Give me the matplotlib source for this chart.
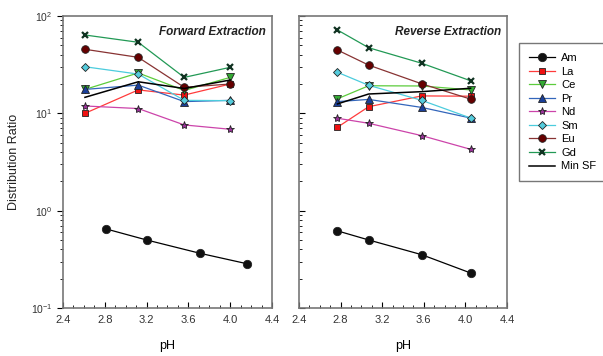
import matplotlib.pyplot as plt
from matplotlib.ticker import LogLocator, MultipleLocator, NullFormatter, FormatStrFormatter

plt.rcParams['font.family'] = ['Liberation Sans', 'DejaVu Sans']
plt.rcParams['mathtext.fontset'] = 'custom'
plt.rcParams['mathtext.rm'] = 'Liberation Sans'

# forward extraction
fwd_ph = [2.61, 3.12, 3.56, 4.00]
fwd_am_ph = [2.81, 3.20, 3.71, 4.16]
fwd_am = [0.65, 0.50, 0.365, 0.285]
fwd_la = [10.0, 17.4, 15.4, 20.0]
fwd_ce = [17.6, 26.0, 17.2, 23.4]
fwd_pr = [17.6, 19.5, 13.2, 13.6]
fwd_nd = [11.9, 11.2, 7.6, 6.86]
fwd_sm = [30.1, 25.3, 13.6, 13.5]
fwd_eu = [45.5, 37.6, 18.5, 20.0]
fwd_gd = [63.8, 53.7, 23.4, 29.7]
fwd_minsf = [14.6, 21.1, 18.0, 22.0]

# reverse extraction
rev_ph = [2.77, 3.07, 3.58, 4.05]
rev_am_ph = [2.77, 3.07, 3.58, 4.05]
rev_am = [0.62, 0.50, 0.353, 0.229]
rev_la = [7.2, 11.7, 15.1, 15.0]
rev_ce = [14.1, 19.2, 19.1, 17.4]
rev_pr = [13.2, 13.9, 11.5, 8.95]
rev_nd = [8.9, 7.9, 5.9, 4.27]
rev_sm = [26.4, 19.4, 13.6, 8.95]
rev_eu = [44.7, 31.3, 20.1, 14.0]
rev_gd = [71.8, 47.2, 32.7, 21.6]
rev_minsf = [12.5, 15.8, 16.7, 18.1]

ph_ticks = [2.4, 2.8, 3.2, 3.6, 4.0, 4.4]

styles = {
    'Am': dict(color='black', marker='o', mfc='#111111', ms=6),
    'La': dict(color='#ff3b3b', marker='s', mfc='#ee1111', ms=5),
    'Ce': dict(color='#5ccc3c', marker='v', mfc='#33aa33', ms=5.5),
    'Pr': dict(color='#3366bb', marker='^', mfc='#1a3f99', ms=5.5),
    'Nd': dict(color='#cc44aa', marker='*', mfc='#993399', ms=6),
    'Sm': dict(color='#4cccdd', marker='D', mfc='#55ccdd', ms=4.5),
    'Eu': dict(color='#883333', marker='o', mfc='#660000', ms=5.5),
    'Gd': dict(color='#229955', marker='x', mfc='#113322', ms=5),
}


def draw(ax, ph, am_ph, am, la, ce, pr, nd, sm, eu, gd, minsf, title):
    series = [('Am', am_ph, am), ('La', ph, la), ('Ce', ph, ce), ('Pr', ph, pr),
              ('Nd', ph, nd), ('Sm', ph, sm), ('Eu', ph, eu), ('Gd', ph, gd)]
    for name, x, y in series:
        st = styles[name]
        mec = '#113322' if name == 'Gd' else '#222222'
        mew = 1.6 if name == 'Gd' else 0.6
        ax.plot(x, y, color=st['color'], lw=0.9, marker=st['marker'],
                ms=st['ms'], mfc=st['mfc'], mec=mec, mew=mew, label=name)
    ax.plot(ph, minsf, color='black', lw=1.1, label='Min SF')
    ax.set_yscale('log')
    ax.set_xlim(2.4, 4.4)
    ax.set_ylim(0.1, 100)
    ax.set_xticks(ph_ticks)
    ax.xaxis.set_major_formatter(FormatStrFormatter('%.1f'))
    ax.xaxis.set_minor_locator(MultipleLocator(0.1))
    ax.yaxis.set_major_locator(LogLocator(base=10))
    ax.yaxis.set_minor_locator(LogLocator(base=10, subs=range(2, 10)))
    ax.yaxis.set_minor_formatter(NullFormatter())
    ax.tick_params(axis='x', which='both', direction='in', labelsize=8,
                   labelcolor='#333333', pad=5)
    ax.tick_params(axis='x', which='major', length=4)
    ax.tick_params(axis='x', which='minor', length=2.5)
    ax.tick_params(axis='y', which='major', length=4, labelsize=7.5,
                   labelcolor='#333333')
    ax.tick_params(axis='y', which='minor', length=2.5)
    for sp in ax.spines.values():
        sp.set_color('#777777')
        sp.set_linewidth(1.2)
    ax.set_xlabel('pH', fontsize=9, labelpad=11)
    ax.text(0.97, 0.965, title, transform=ax.transAxes, ha='right', va='top',
            fontsize=8.5, fontweight='bold', fontstyle='italic', color='#222222')


fig = plt.figure(figsize=(6.03, 3.56), dpi=100)
ax1 = fig.add_axes([63 / 603, 1 - 308 / 356, 209 / 603, 292 / 356])
ax2 = fig.add_axes([299 / 603, 1 - 308 / 356, 208 / 603, 292 / 356])

draw(ax1, fwd_ph, fwd_am_ph, fwd_am, fwd_la, fwd_ce, fwd_pr, fwd_nd, fwd_sm,
     fwd_eu, fwd_gd, fwd_minsf, 'Forward Extraction')
draw(ax2, rev_ph, rev_am_ph, rev_am, rev_la, rev_ce, rev_pr, rev_nd, rev_sm,
     rev_eu, rev_gd, rev_minsf, 'Reverse Extraction')

ax1.tick_params(axis='y', which='both', direction='out')
ax2.tick_params(axis='y', which='both', direction='in', labelleft=False)
ax1.set_ylabel('Distribution Ratio', fontsize=9, labelpad=8, color='#222222')

handles, labels = ax1.get_legend_handles_labels()
leg = fig.legend(handles, labels, loc='upper left',
                 bbox_to_anchor=(519 / 603, 1 - 43 / 356), fontsize=8,
                 frameon=True, fancybox=False, edgecolor='#555555',
                 borderpad=0.9, labelspacing=0.32, handlelength=2.3,
                 handletextpad=0.6, borderaxespad=0)
leg.get_frame().set_linewidth(1.0)

fig.savefig('out.png', dpi=100)
